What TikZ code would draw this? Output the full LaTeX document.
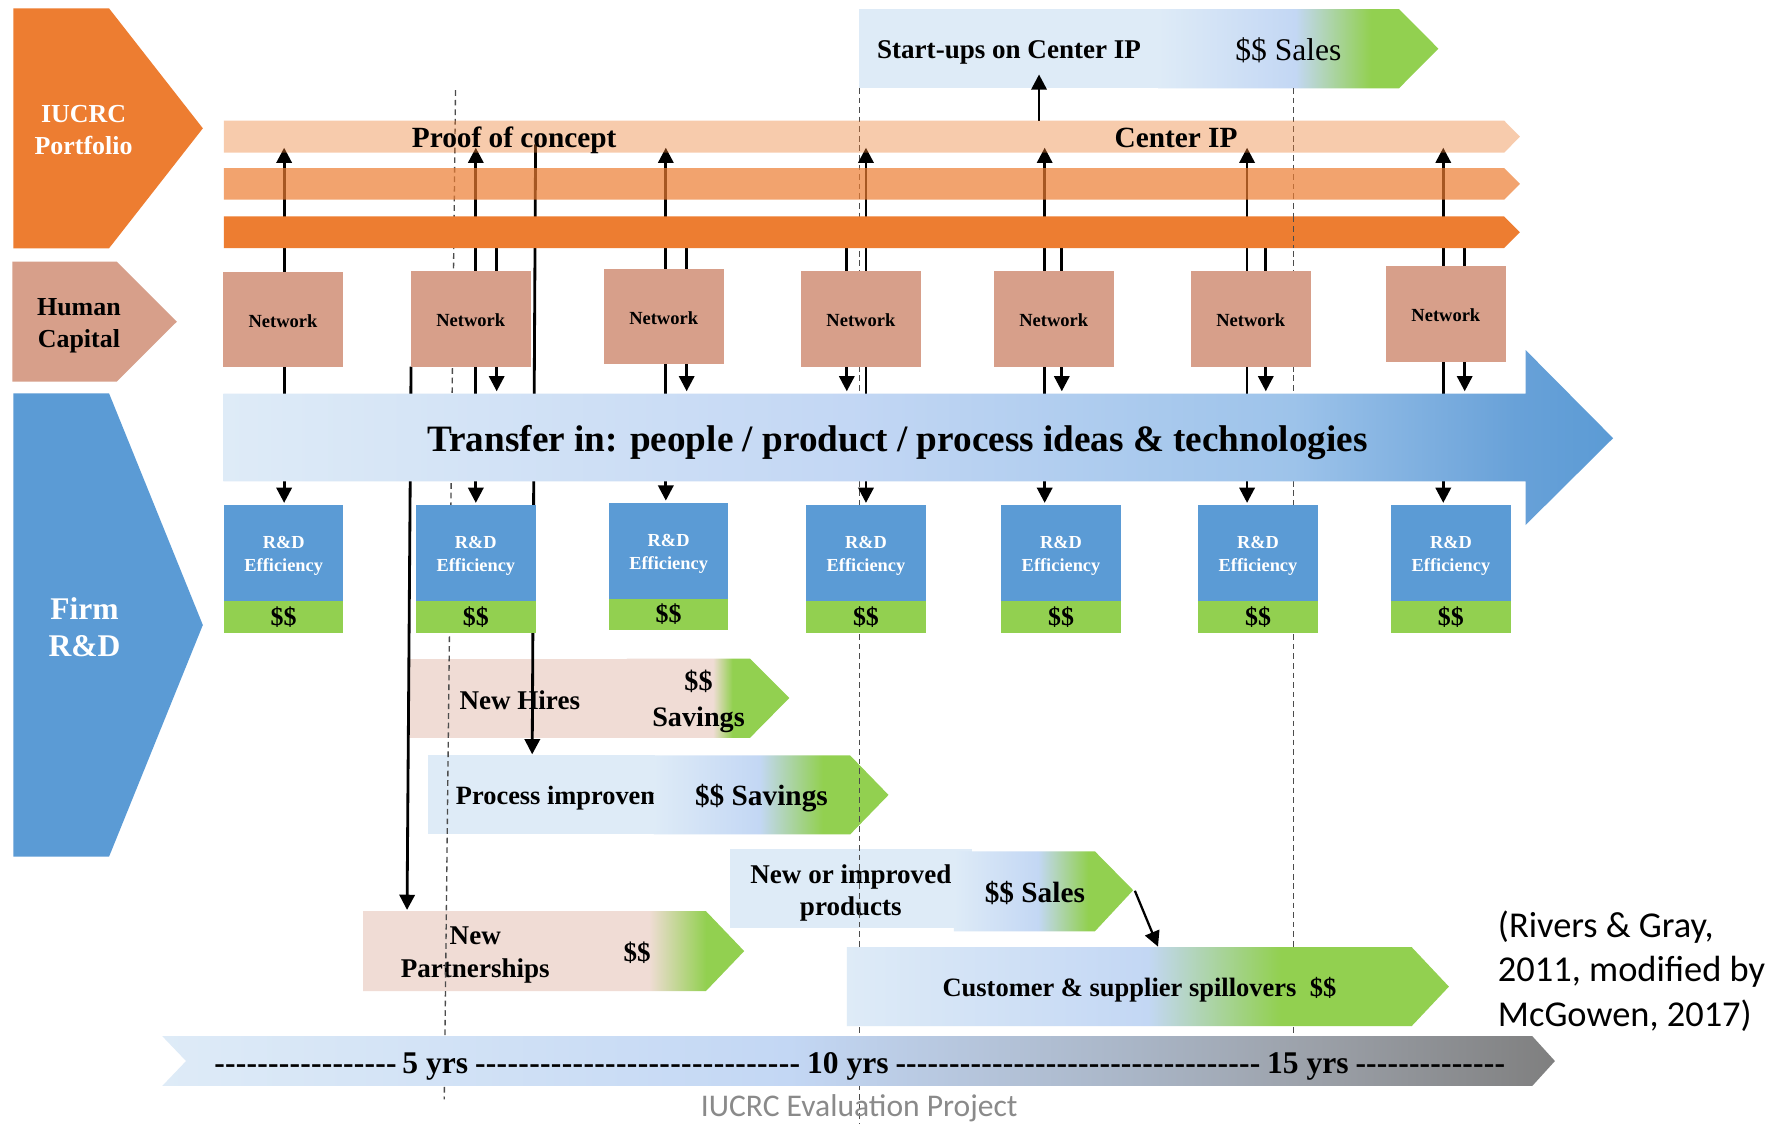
\documentclass[tikz,border=0pt]{standalone}
\usepackage{fontspec}
\setmainfont{Liberation Serif}
\newfontfamily\carlitofont{Carlito}
\usetikzlibrary{arrows.meta}

\newcommand{\setfs}[2]{\fontsize{#1}{#2}\selectfont}
\newcommand{\dashrun}[1]{\hbox to #1pt{\xleaders\hbox{-}\hfill}}

\definecolor{orangeA}{HTML}{ED7D31}
\definecolor{capc}{HTML}{D79F8A}
\definecolor{firmblue}{HTML}{5B9BD5}
\definecolor{cashgreen}{HTML}{92D050}
\definecolor{paleblue}{HTML}{DEEBF7}
\definecolor{midblue}{HTML}{C3D7F4}
\definecolor{palepink}{HTML}{F0DCD5}
\definecolor{deepblueA}{HTML}{9DC3EA}
\definecolor{deepblueB}{HTML}{68A1D8}
\definecolor{slateA}{HTML}{A9B5C6}
\definecolor{slateB}{HTML}{9BA0A8}
\definecolor{greyend}{HTML}{7F7F7F}
\definecolor{footgray}{HTML}{8A8A8A}

% horizontal colour ramps; the 25bp..75bp part spans the filled shape
\pgfdeclarehorizontalshading{startupSales}{100bp}{color(0bp)=(paleblue); color(25bp)=(paleblue); color(49.5bp)=(midblue); color(63bp)=(cashgreen); color(100bp)=(cashgreen)}
\pgfdeclarehorizontalshading{hiresSavings}{100bp}{color(0bp)=(palepink); color(25bp)=(palepink); color(51.5bp)=(palepink); color(57.5bp)=(cashgreen); color(100bp)=(cashgreen)}
\pgfdeclarehorizontalshading{processSavings}{100bp}{color(0bp)=(paleblue); color(25bp)=(paleblue); color(47.5bp)=(midblue); color(61bp)=(cashgreen); color(100bp)=(cashgreen)}
\pgfdeclarehorizontalshading{productSales}{100bp}{color(0bp)=(paleblue); color(25bp)=(paleblue); color(48.5bp)=(midblue); color(62.5bp)=(cashgreen); color(100bp)=(cashgreen)}
\pgfdeclarehorizontalshading{partnerGain}{100bp}{color(0bp)=(palepink); color(25bp)=(palepink); color(62.5bp)=(palepink); color(70bp)=(cashgreen); color(100bp)=(cashgreen)}
\pgfdeclarehorizontalshading{spillGain}{100bp}{color(0bp)=(paleblue); color(25bp)=(paleblue); color(50bp)=(midblue); color(61bp)=(cashgreen); color(100bp)=(cashgreen)}
\pgfdeclarehorizontalshading{transferRamp}{100bp}{color(0bp)=(paleblue); color(25bp)=(paleblue); color(47.5bp)=(midblue); color(63.5bp)=(deepblueA); color(71.5bp)=(deepblueB); color(75bp)=(firmblue); color(100bp)=(firmblue)}
\pgfdeclarehorizontalshading{timeRamp}{100bp}{color(0bp)=(paleblue); color(25bp)=(paleblue); color(47.5bp)=(midblue); color(60bp)=(slateA); color(66.5bp)=(slateB); color(75bp)=(greyend); color(100bp)=(greyend)}

\pgfdeclarelayer{back}
\pgfdeclarelayer{wires}
\pgfsetlayers{back,wires,main}

\tikzset{
  wire/.style={draw=black, line width=2.5pt},
  arr/.style={wire, -{Triangle[length=13.5pt,width=13.5pt]}},
  timedash/.style={draw=black!70, line width=1.2pt, dash pattern=on 5pt off 3.5pt},
  netbox/.style={fill=capc, minimum width=106.5pt, minimum height=84.7pt, inner sep=0pt, outer sep=0pt},
  netlbl/.style={inner sep=0pt, font={\setfs{16.4}{19}\bfseries}},
  rdbox/.style={fill=firmblue, minimum width=106pt, minimum height=85pt, inner sep=0pt, outer sep=0pt},
  rdlbl/.style={inner sep=0pt, text=white, align=center, font={\setfs{16.3}{20}\bfseries}},
  rdcash/.style={fill=cashgreen, minimum width=106pt, minimum height=28pt, inner sep=0pt, outer sep=0pt, font={\setfs{23}{26}\bfseries}},
  lbl/.style={inner sep=0pt, outer sep=0pt, align=center},
  tl/.style={inner sep=0pt, outer sep=0pt, anchor=base, font={\setfs{28}{32}\bfseries}},
  tlrun/.style={inner sep=0pt, outer sep=0pt, anchor=base west, font={\setfs{28}{32}\bfseries}},
}

\begin{document}
\begin{tikzpicture}[x=1pt,y=-1pt]
\useasboundingbox (0,0) rectangle (1568,997);

% ---------- outcome boxes (lowest layer) ----------
\begin{pgfonlayer}{back}
\fill[white] (0,0) rectangle (1568,997);

\node[fill=paleblue, minimum width=265.3pt, minimum height=70.3pt, inner sep=0pt, outer sep=0pt] (startup) at (894.9,43.2) {};
\node[lbl, font={\setfs{24}{28}\bfseries}] (startuptext) at (894.9,46.8) {Start-ups on Center IP};
\shade[shading=startupSales] (1027,8) -- (1240.7,8) -- (1275.7,43.2) -- (1240.7,78.3) -- (1027,78.3) -- cycle;
\node[lbl, font={\setfs{28}{32}}] (topsales) at (1142.7,44.5) {\$\$ Sales};

\fill[palepink] (363,584) rectangle (557,654.5);
\node[lbl, font={\setfs{24}{28}\bfseries}] (hires) at (461,620.8) {New Hires};
\shade[shading=hiresSavings] (556,584) -- (665,584) -- (700,619) -- (665,654.5) -- (556,654.5) -- cycle;
\node[lbl, font={\setfs{25}{32}\bfseries}] (hiresgain) at (619.5,622) {\$\$\\Savings};

\fill[paleblue] (380,670) rectangle (581,740);
\node[lbl, anchor=west, font={\setfs{23.4}{28}\bfseries}] (process) at (404.4,707.5) {Process improvement};
\shade[shading=processSavings] (580,670) -- (754,670) -- (788,705) -- (754,740) -- (580,740) -- cycle;
\node[lbl, font={\setfs{26}{30}\bfseries}] (processgain) at (675.3,707.5) {\$\$ Savings};

\fill[paleblue] (647,753) rectangle (862.4,823);
\node[lbl, font={\setfs{24}{28.5}\bfseries}] (products) at (754.6,792) {New or improved\\products};
\shade[shading=productSales] (846,755) -- (971,755) -- (1005,789.5) -- (971,826) -- (846,826) -- cycle;
\node[lbl, font={\setfs{26}{30}\bfseries}] (productgain) at (917.8,792) {\$\$ Sales};

\shade[shading=partnerGain] (322,808) -- (626,808) -- (660,843.5) -- (626,879) -- (322,879) -- cycle;
\node[lbl, font={\setfs{24}{29.5}\bfseries}] (partners) at (421.5,847) {New\\Partnerships};
\node[lbl, font={\setfs{24}{28}\bfseries}] (partnergain) at (565,845) {\$\$};
\end{pgfonlayer}

% ---------- IUCRC portfolio bands ----------
\fill[orangeA, fill opacity=0.4] (198.6,107) -- (1334,107) -- (1348,121.2) -- (1334,135.4) -- (198.6,135.4) -- cycle;
\fill[orangeA, fill opacity=0.7] (198.6,149) -- (1334,149) -- (1348,163) -- (1334,177) -- (198.6,177) -- cycle;
\fill[orangeA] (198.6,192) -- (1334,192) -- (1348,206) -- (1334,220) -- (198.6,220) -- cycle;
\node[lbl, font={\setfs{26}{30}\bfseries}] (poc) at (456,124.5) {Proof of concept};
\node[lbl, font={\setfs{26}{30}\bfseries}] (centerip) at (1043,122) {Center IP};
% the fifteen-year marker stays visible across the darkest band
\coordinate (fifteenBandTop) at (1147,192);
\coordinate (fifteenBandLow) at (1147,220);
\draw[timedash] (fifteenBandTop) -- (fifteenBandLow);

% ---------- human capital: network boxes ----------
\foreach \k/\cx/\cy in {1/251/283.5, 2/417.5/282.7, 3/588.6/280.8, 4/763.5/282.7, 5/934.5/282.7, 6/1109.2/282.7, 7/1282.3/278.4}{
  \node[netbox] (n\k) at (\cx,\cy) {};
  \node[netlbl] (n\k t) at ([yshift=-1pt]n\k.center) {Network};
}

% ---------- transfer arrow ----------
\shade[shading=transferRamp] (198,349) -- (1353,349) -- (1353,310.4) -- (1430.6,388.6) -- (1353,465.6) -- (1353,427) -- (198,427) -- cycle;
\node[lbl, font={\setfs{33}{38}\bfseries}] (transfer) at (796,392) {Transfer in: people / product / process ideas \& technologies};

% ---------- firm R&D efficiency boxes ----------
\foreach \k/\cx/\cy in {1/251.6/490.5, 2/422/490.5, 3/593/488.5, 4/768/490.5, 5/941/490.5, 6/1115.7/490.5, 7/1286.8/490.5}{
  \node[rdbox] (rd\k) at (\cx,\cy) {};
  \node[rdlbl] (rd\k t) at ([yshift=-2.5pt]rd\k.center) {R\&D\\Efficiency};
  \node[rdcash, anchor=north] (rd\k c) at (rd\k.south) {\$\$};
}

% ---------- spillovers and time line ----------
\shade[shading=spillGain] (751,840) -- (1252,840) -- (1285,875) -- (1252,910) -- (751,910) -- cycle;
\node[lbl, font={\setfs{23.5}{28}\bfseries}] (spill) at (1010.5,878) {Customer \& supplier spillovers\hspace{0.5em}\$\$};

\shade[shading=timeRamp] (144,919) -- (1359,919) -- (1379,941) -- (1359,963) -- (144,963) -- (165,941) -- cycle;
\node[tlrun] (run1) at (190,952) {\dashrun{162}};
\node[tl] (yr5) at (386,952) {5 yrs};
\node[tlrun] (run2) at (421,952) {\dashrun{289}};
\node[tl] (yr10) at (752,952) {10 yrs};
\node[tlrun] (run3) at (794,952) {\dashrun{324}};
\node[tl] (yr15) at (1160,952) {15 yrs};
\node[tlrun] (run4) at (1202,952) {\dashrun{133}};

% ---------- row headers ----------
\fill[orangeA] (11.9,7.4) -- (96.7,7.4) -- (179.9,113.8) -- (96.7,220.2) -- (11.9,220.2) -- cycle;
\node[lbl, text=white, font={\setfs{23}{28.5}\bfseries}] (portfolio) at (74.1,115) {IUCRC\\Portfolio};
\fill[capc] (10.9,232) -- (103.5,232) -- (156.8,285.3) -- (103.5,338.5) -- (10.9,338.5) -- cycle;
\node[lbl, font={\setfs{23}{28}\bfseries}] (humancap) at (70,289) {Human\\Capital};
\fill[firmblue] (11.9,348.8) -- (96.7,348.8) -- (179.9,554.3) -- (96.7,759.8) -- (11.9,759.8) -- cycle;
\node[lbl, text=white, font={\setfs{28}{33}\bfseries}] (firmrd) at (75,556.5) {Firm\\R\&D};

% ---------- source notes ----------
\node[lbl, anchor=west, align=left, font={\carlitofont\setfs{32.3}{39.5}}] (source) at (1328.5,861) {(Rivers \& Gray,\\2011, modified by\\McGowen, 2017)};
\node[lbl, text=footgray, font={\carlitofont\setfs{28}{30}}] (footer) at (762,983) {IUCRC Evaluation Project};

% ---------- connectors and time markers ----------
\begin{pgfonlayer}{wires}
\coordinate (bandOneTip) at (0,131);
\coordinate (bandOneTop) at (0,107);
\coordinate (bandThreeLow) at (0,220);
\coordinate (trTip) at (0,347);
\coordinate (pocStart) at (475,128);
\coordinate (processEntry) at (472,669);
\coordinate (partnerEntry) at (361,807);
\coordinate (startupTip) at (921.5,66);
\coordinate (prodTip) at (1006.5,790);
\coordinate (spillEntry) at (1027,839.5);
\coordinate (fiveTop) at (404,80);
\coordinate (fiveBot) at (394,975);
\coordinate (tenTop) at (762,78);
\coordinate (tenBot) at (762,997);
\coordinate (fifteenTop) at (1147,78);
\coordinate (fifteenBot) at (1147,919);

\draw[timedash] (fiveTop) -- (fiveBot);
\draw[timedash] (tenTop) -- (tenBot);
\draw[timedash] (fifteenTop) -- (fifteenBot);

\draw[arr] (n1.north -| 252,0) -- (bandOneTip -| 252,0);
\draw[arr, shorten >=2pt] (n1.south -| 252,0) -- (rd1.north -| 252,0);
\foreach \k/\m/\s in {2/422/440.5, 3/590.5/609, 4/768/751, 5/926.5/941.7, 6/1106/1122.6, 7/1280/1299}{
  \draw[arr] (n\k.north -| \m,0) -- (bandOneTip -| \m,0);
  \draw[wire] (bandThreeLow -| \s,0) -- (n\k.north -| \s,0);
  \draw[arr] (n\k.south -| \s,0) -- (trTip -| \s,0);
  \draw[arr, shorten >=2pt] (n\k.south -| \m,0) -- (rd\k.north -| \m,0);
}

\draw[arr] (bandOneTop -| 921.5,0) -- (startupTip);
\draw[arr] (pocStart) -- (processEntry);
\draw[arr] ([xshift=0.3pt]n2.south west) -- (partnerEntry);
\draw[arr, line width=2pt] (prodTip) -- (spillEntry);
\end{pgfonlayer}
\end{tikzpicture}
\end{document}
